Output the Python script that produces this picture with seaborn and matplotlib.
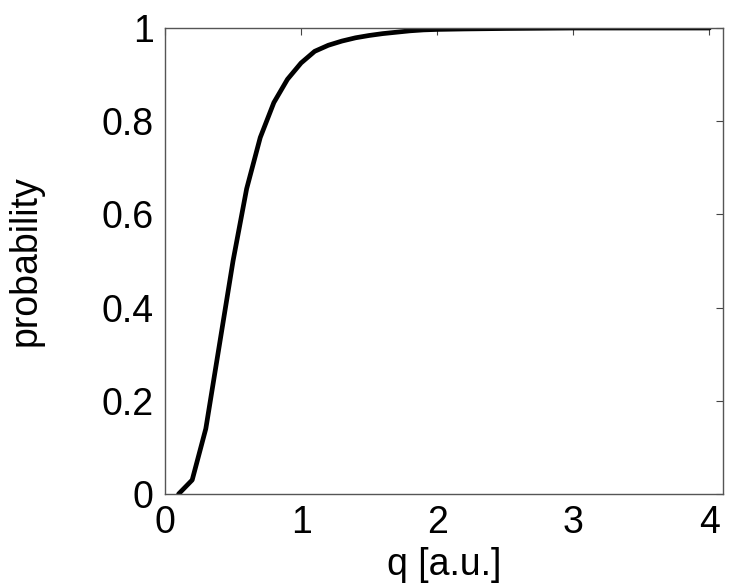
#!/usr/bin/env python3
"""Cumulative probability vs q, MATLAB-style figure redrawn with seaborn."""

import numpy as np
import pandas as pd
import matplotlib
matplotlib.use("Agg")
import matplotlib.pyplot as plt
import seaborn as sns

# values
q_values = [0.1, 0.2, 0.3, 0.4, 0.5, 0.6, 0.7, 0.8, 0.9, 1.0,
            1.1, 1.2, 1.3, 1.4, 1.5, 1.6, 1.7, 1.8, 1.9, 2.0,
            2.2, 2.5, 3.0, 3.5, 4.0]
prob_values = [0.0, 0.03, 0.14, 0.32, 0.50, 0.655, 0.765, 0.84, 0.89, 0.925,
               0.950, 0.963, 0.972, 0.979, 0.984, 0.988, 0.991, 0.994, 0.996, 0.997,
               0.998, 0.999, 1.0, 1.0, 1.0]
x_ticks = [0, 1, 2, 3, 4]
y_ticks = [0, 0.2, 0.4, 0.6, 0.8, 1]
y_tick_labels = ["0", "0.2", "0.4", "0.6", "0.8", "1"]

df = pd.DataFrame({"q": q_values, "probability": prob_values})

sns.set_style("white")
plt.rcParams['font.family'] = ['Liberation Sans', 'DejaVu Sans']
plt.rcParams['text.color'] = 'black'
plt.rcParams['axes.labelcolor'] = 'black'
plt.rcParams['xtick.color'] = 'black'
plt.rcParams['ytick.color'] = 'black'

fig = plt.figure(figsize=(7.29, 5.85), dpi=100)
ax = fig.add_axes([0.2263, 0.1556, 0.9918 - 0.2263, 0.9521 - 0.1556])

sns.lineplot(data=df, x="q", y="probability", color="black", linewidth=3.4, ax=ax)

ax.set_xlim(0, 4.1)
ax.set_ylim(0, 1)
ax.set_xticks(x_ticks)
ax.set_xticklabels([str(t) for t in x_ticks])
ax.set_yticks(y_ticks)
ax.set_yticklabels(y_tick_labels)

ax.tick_params(direction="in", length=5, width=0.8, color="#444444",
               labelcolor="black", top=True, right=True, labelsize=27, pad=8)

for side in ["left", "right", "top", "bottom"]:
    ax.spines[side].set_visible(True)
    ax.spines[side].set_color("#555555")
    ax.spines[side].set_linewidth(1.0)

ax.set_xlabel("q [a.u.]", fontsize=27, labelpad=4, color="black")
ax.set_ylabel("probability", fontsize=27, labelpad=42, color="black")

fig.savefig("out.png", dpi=100)
plt.close(fig)
